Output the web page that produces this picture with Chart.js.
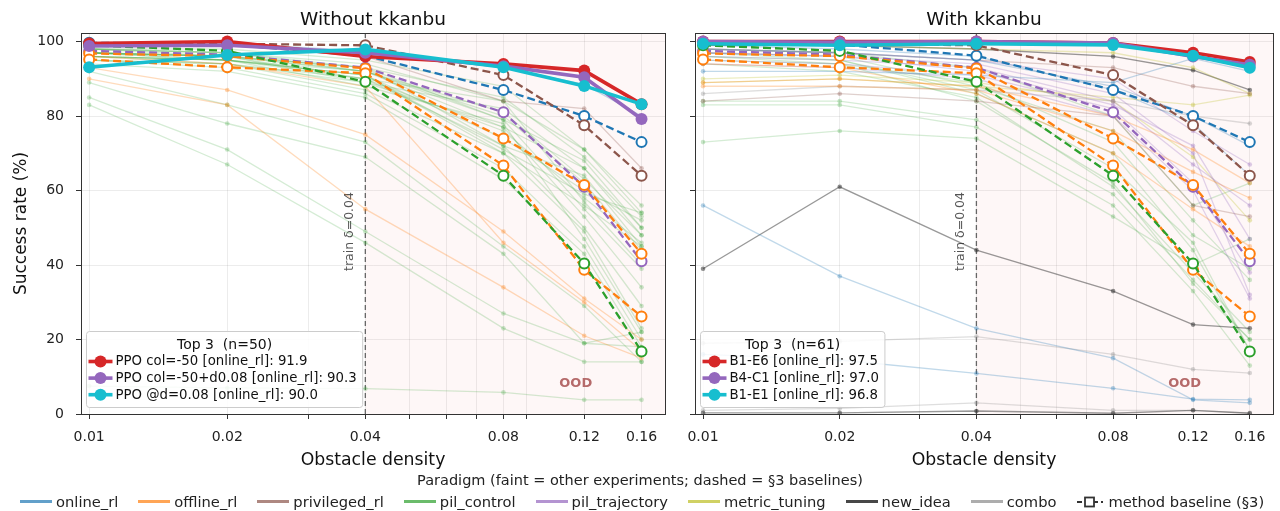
<!DOCTYPE html>
<html>
<head>
<meta charset="utf-8">
<script src="https://cdn.jsdelivr.net/npm/chart.js@4.4.1/dist/chart.umd.min.js"></script>
<style>
  body { margin: 0; background: #fff; font-family: "DejaVu Sans", sans-serif; }
  #wrap { position: relative; width: 1280px; height: 511px; overflow: hidden; }
  #c1 { position: absolute; left: 0; top: 0; }
  #c2 { position: absolute; left: 672px; top: 0; }
  #legTitle { position: absolute; top: 472px; left: 0; width: 1280px; text-align: center; font-size: 14.5px; color: #222; }
  #leg { position: absolute; top: 493px; left: 20px; display: flex; align-items: center; font-size: 14.7px; color: #222; white-space: nowrap; }
  #leg .it { display: flex; align-items: center; margin-right: 20px; }
  #leg .sw { display: inline-block; width: 32px; height: 3px; margin-right: 4px; }
  #leg .mb { position: relative; width: 28px; height: 14px; margin-right: 4px; }
</style>
</head>
<body>
<div id="wrap">
  <canvas id="c1" width="672" height="474"></canvas>
  <canvas id="c2" width="608" height="474"></canvas>
  <div id="legTitle">Paradigm (faint = other experiments; dashed = §3 baselines)</div>
  <div id="leg"></div>
</div>
<script>
// x positions (obstacle density) and tick values
const densities = [0.01, 0.02, 0.04, 0.08, 0.12, 0.16];
const minorDensities = [0.03, 0.05, 0.06, 0.07, 0.09];
const yTicks = [0, 20, 40, 60, 80, 100];
const trainDensity = 0.04;

const paradigms = ['online_rl', 'offline_rl', 'privileged_rl', 'pil_control', 'pil_trajectory', 'metric_tuning', 'new_idea', 'combo'];
const paradigmColors = {
    online_rl: '#1f77b4', offline_rl: '#ff7f0e', privileged_rl: '#8c564b', pil_control: '#2ca02c',
    pil_trajectory: '#9467bd', metric_tuning: '#bcbd22', new_idea: '#333333', combo: '#8a8a8a'
};
const topColors = ['#d62728', '#9467bd', '#17becf'];

// §3 method baselines (same in both panels)
const baseOnline      = [99.7, 99.2, 96.2, 87.0, 80.0, 73.0];
const basePrivileged  = [99.5, 99.4, 99.0, 91.0, 77.5, 64.0];
const baseTrajectory  = [97.5, 96.5, 93.0, 81.0, 61.0, 41.0];
const baseOfflineA    = [96.8, 96.1, 92.8, 74.0, 61.5, 43.0];
const baseOfflineB    = [95.2, 93.1, 91.5, 66.7, 38.7, 26.2];
const baseControl     = [99.0, 97.5, 89.2, 64.0, 40.4, 16.8];

// Without kkanbu: top 3
const leftTopLabels = ['PPO col=-50 [online_rl]: 91.9', 'PPO col=-50+d0.08 [online_rl]: 90.3', 'PPO @d=0.08 [online_rl]: 90.0'];
const leftTop1 = [99.5, 100.0, 96.0, 94.0, 92.2, 83.2];
const leftTop2 = [98.8, 99.0, 97.0, 93.4, 90.4, 79.2];
const leftTop3 = [93.1, 96.4, 97.9, 93.1, 88.1, 83.2];

// Without kkanbu: other experiments
const leftControl = [
    [98, 97, 94, 84, 71, 54], [98, 96, 93, 79, 68, 50], [97, 96, 92, 77, 66, 48],
    [98, 97, 93, 72, 64, 45], [97, 95, 91, 71, 59, 54], [96, 95, 90, 84, 57, 40],
    [97, 96, 92, 79, 55, 39], [96, 94, 89, 77, 53, 34], [95, 94, 90, 72, 50, 29],
    [97, 95, 91, 70, 49, 23], [96, 95, 88, 78, 47, 22], [98, 97, 92, 81, 63, 48],
    [97, 96, 90, 76, 58, 46], [96, 95, 91, 74, 60, 52], [95, 94, 87, 70, 56, 45],
    [97, 96, 89, 82, 66, 50], [95, 93, 86, 66, 45, 20], [94, 92, 85, 63, 43, 18],
    [98, 98, 95, 88, 71, 56], [97, 96, 93, 85, 69, 53], [96, 95, 92, 80, 62, 44],
    [92, 83, 73, 45, 29, 14], [89, 78, 69, 43, 19, 22], [85, 71, 49, 27, 19, 18],
    [83, 67, 46, 23, 14, 14], [7.5, 7, 6.8, 5.8, 3.8, 3.8]
];
const leftOffline = [[93, 87, 75, 49, 31, 20], [90, 83, 55, 34, 21, 15], [96, 94, 88, 46, 30, 17]];
const leftPrivileged = [[99, 99, 96, 84, 82, 66]];
const leftOnline = [[99.5, 99.5, 97.5, 93, 88.5, 80]];

// With kkanbu: top 3
const rightTopLabels = ['B1-E6 [online_rl]: 97.5', 'B4-C1 [online_rl]: 97.0', 'B1-E1 [online_rl]: 96.8'];
const rightTop1 = [100.0, 100.0, 100.0, 99.6, 97.0, 94.5];
const rightTop2 = [100.0, 99.8, 100.0, 99.6, 96.0, 93.8];
const rightTop3 = [99.4, 99.0, 99.4, 99.1, 96.2, 93.0];

// With kkanbu: other experiments
const rightOnline = [[92, 92, 91, 89, 95.5, 92], [99, 98, 96, 87, 78, 64], [98, 97, 95, 88, 80, 72],
    [56, 37, 23, 15, 3.8, 3], [16, 14.5, 10.9, 6.9, 4, 3.8]];
const rightOffline = [[89, 90, 88, 80, 71, 62], [88, 88, 87, 76, 65, 58], [94, 93, 86, 70, 55, 45]];
const rightPrivileged = [[84, 86, 84, 80, 56, 53], [98, 97, 95, 93, 88, 86]];
const rightTrajectory = [[96, 95, 93, 84, 67, 56], [95, 94, 91, 82, 62, 38], [97, 96, 94, 86, 70, 32],
    [94, 93, 90, 80, 60, 31], [98, 97, 95, 90, 76, 67], [97, 96, 92, 83, 72, 47]];
const rightMetric = [[90, 91, 89, 84, 69, 52], [89, 90, 88, 85, 83, 85.6], [99, 99, 98, 97, 93, 86]];
const rightNewIdea = [[39, 61, 44, 33, 24, 23], [99, 99, 98, 96, 92.3, 87], [0.3, 0.3, 0.8, 0.2, 1, 0.2]];
const rightCombo = [[86, 88, 87, 84, 80, 78], [19, 19.5, 20.8, 16, 12, 11], [1, 1.5, 3, 1, 1, 0.3]];
const rightControl = [[84, 84, 79, 59, 36, 20], [83, 83, 77, 56, 33, 13], [73, 76, 74, 53, 40, 47],
    [97, 96, 88, 76, 52, 36], [96, 95, 86, 70, 44, 17], [95, 94, 89, 73, 48, 39],
    [98, 97, 93, 80, 56, 62], [97, 95, 87, 66, 46, 17], [94, 92, 85, 61, 38, 22], [96, 94, 84, 62, 35, 20]];

const FONT = '"DejaVu Sans", sans-serif';
Chart.defaults.font.family = FONT;
Chart.defaults.color = '#222';

function hexA(hex, a) {
    const n = parseInt(hex.slice(1), 16);
    return `rgba(${(n >> 16) & 255},${(n >> 8) & 255},${n & 255},${a})`;
}

function pts(vals) {
    return vals.map((v, i) => ({ x: densities[i], y: v }));
}

function faintSet(vals, paradigm) {
    const c = paradigmColors[paradigm];
    let a = 0.28;
    if (paradigm === 'pil_control') a = 0.2;
    if (paradigm === 'new_idea') a = 0.5;
    return {
        data: pts(vals), borderColor: hexA(c, a), backgroundColor: hexA(c, a + 0.05),
        borderWidth: 1.3, pointRadius: 2.3, pointBorderWidth: 0, pointHoverRadius: 0
    };
}

function baselineSet(vals, paradigm) {
    const c = paradigmColors[paradigm];
    return {
        data: pts(vals), borderColor: c, borderWidth: 2.3, borderDash: [8, 4],
        pointRadius: 5, pointBorderWidth: 2, pointBorderColor: c, pointBackgroundColor: '#ffffff'
    };
}

function topSet(vals, color) {
    return {
        data: pts(vals), borderColor: color, backgroundColor: color, borderWidth: 3.6,
        pointRadius: 6, pointBorderWidth: 0, pointBackgroundColor: color
    };
}

function baselineSets() {
    return [
        baselineSet(baseControl, 'pil_control'),
        baselineSet(baseOfflineB, 'offline_rl'),
        baselineSet(baseOfflineA, 'offline_rl'),
        baselineSet(baseTrajectory, 'pil_trajectory'),
        baselineSet(basePrivileged, 'privileged_rl'),
        baselineSet(baseOnline, 'online_rl')
    ];
}

// draws shading, train line, OOD tag, frame, top-3 legend and title
const decor = {
    id: 'decor',
    beforeDatasetsDraw(chart, args, o) {
        const { ctx, chartArea: a, scales } = chart;
        const xt = scales.x.getPixelForValue(trainDensity);
        ctx.save();
        ctx.fillStyle = 'rgba(214,39,40,0.035)';
        ctx.fillRect(xt, a.top, a.right - xt, a.bottom - a.top);
        ctx.strokeStyle = '#666';
        ctx.lineWidth = 1.3;
        ctx.setLineDash([5, 3]);
        ctx.beginPath();
        ctx.moveTo(xt, a.top);
        ctx.lineTo(xt, a.bottom);
        ctx.stroke();
        ctx.setLineDash([]);
        ctx.translate(xt - 16, scales.y.getPixelForValue(49));
        ctx.rotate(-Math.PI / 2);
        ctx.fillStyle = '#555';
        ctx.font = '12.5px ' + FONT;
        ctx.textAlign = 'center';
        ctx.textBaseline = 'middle';
        ctx.fillText('train δ=0.04', 0, 0);
        ctx.restore();

        ctx.save();
        ctx.fillStyle = '#b56a6a';
        ctx.font = 'bold 13px ' + FONT;
        ctx.textAlign = 'center';
        ctx.textBaseline = 'middle';
        ctx.fillText('OOD', scales.x.getPixelForValue(0.115), scales.y.getPixelForValue(8.2));
        ctx.restore();
    },
    afterDatasetsDraw(chart, args, o) {
        const { ctx, chartArea: a } = chart;
        ctx.save();
        ctx.strokeStyle = '#333';
        ctx.lineWidth = 1;
        ctx.strokeRect(Math.round(a.left) + 0.5, Math.round(a.top) + 0.5, Math.round(a.right - a.left), Math.round(a.bottom - a.top));

        // top-3 legend box
        ctx.font = '13.3px ' + FONT;
        const textW = Math.max(...o.labels.map(t => ctx.measureText(t).width));
        const w = 29 + textW + 6, h = 76;
        const x0 = a.left + 5.5, y0 = a.bottom - 6.5 - h;
        ctx.fillStyle = 'rgba(255,255,255,0.85)';
        ctx.strokeStyle = '#cccccc';
        ctx.beginPath();
        ctx.roundRect(x0, y0, w, h, 3);
        ctx.fill();
        ctx.stroke();
        ctx.fillStyle = '#111';
        ctx.textAlign = 'center';
        ctx.textBaseline = 'middle';
        ctx.font = '14px ' + FONT;
        ctx.fillText(o.title, x0 + w / 2, y0 + 14);
        ctx.font = '13.3px ' + FONT;
        ctx.textAlign = 'left';
        o.labels.forEach((t, i) => {
            const yy = y0 + 30 + i * 16.6;
            ctx.strokeStyle = topColors[i];
            ctx.lineWidth = 3.6;
            ctx.beginPath();
            ctx.moveTo(x0 + 2, yy);
            ctx.lineTo(x0 + 26, yy);
            ctx.stroke();
            ctx.fillStyle = topColors[i];
            ctx.beginPath();
            ctx.arc(x0 + 14, yy, 6, 0, Math.PI * 2);
            ctx.fill();
            ctx.fillStyle = '#111';
            ctx.fillText(t, x0 + 29, yy + 0.5);
        });

        // panel title
        ctx.fillStyle = '#111';
        ctx.font = '18.5px ' + FONT;
        ctx.textAlign = 'center';
        ctx.fillText(o.heading, (a.left + a.right) / 2, 20);
        ctx.restore();
    }
};

function makeChart(id, cfg) {
    const datasets = [
        topSet(cfg.top[2], topColors[2]),
        topSet(cfg.top[1], topColors[1]),
        topSet(cfg.top[0], topColors[0]),
        ...baselineSets()
    ];
    cfg.faint.forEach(([paradigm, lines]) => {
        lines.forEach(vals => datasets.push(faintSet(vals, paradigm)));
    });

    const gridColor = 'rgba(0,0,0,0.075)';
    return new Chart(document.getElementById(id), {
        type: 'line',
        data: { datasets },
        plugins: [decor],
        options: {
            responsive: false,
            animation: false,
            devicePixelRatio: 1,
            events: [],
            layout: { padding: { left: 0, top: 33, right: cfg.padRight, bottom: 0 } },
            elements: { line: { tension: 0 } },
            plugins: {
                legend: { display: false },
                tooltip: { enabled: false },
                decor: { labels: cfg.topLabels, title: cfg.legendTitle, heading: cfg.heading }
            },
            scales: {
                x: {
                    type: 'logarithmic',
                    min: 0.0096,
                    max: 0.18,
                    afterBuildTicks: s => {
                        s.ticks = [...densities, ...minorDensities].sort((p, q) => p - q).map(v => ({ value: v }));
                    },
                    afterFit: s => { s.height = 60; },
                    ticks: {
                        autoSkip: false, maxRotation: 0, minRotation: 0, padding: 10,
                        font: { size: 14 }, color: '#222',
                        callback: v => {
                            const k = densities.indexOf(v);
                            return k >= 0 ? densities[k].toFixed(2) : '';
                        }
                    },
                    grid: { color: gridColor, tickColor: '#333', tickLength: 5 },
                    border: { color: '#333' },
                    title: { display: true, text: 'Obstacle density', font: { size: 17.3 }, color: '#111', padding: { top: 2, bottom: 3 } }
                },
                y: {
                    min: 0,
                    max: 102.3,
                    afterBuildTicks: s => { s.ticks = yTicks.map(v => ({ value: v })); },
                    afterFit: s => { s.width = cfg.yWidth; },
                    ticks: {
                        padding: 12, font: { size: 14 }, color: '#222',
                        callback: v => cfg.showY ? String(v) : ''
                    },
                    grid: { color: gridColor, tickColor: '#333', tickLength: 5 },
                    border: { color: '#333' },
                    title: { display: cfg.showY, text: 'Success rate (%)', font: { size: 17 }, color: '#111', padding: { top: 11, bottom: 0 } }
                }
            }
        }
    });
}

makeChart('c1', {
    heading: 'Without kkanbu',
    legendTitle: 'Top 3  (n=50)',
    topLabels: leftTopLabels,
    top: [leftTop1, leftTop2, leftTop3],
    faint: [['online_rl', leftOnline], ['privileged_rl', leftPrivileged], ['offline_rl', leftOffline], ['pil_control', leftControl]],
    showY: true,
    yWidth: 81,
    padRight: 7
});

makeChart('c2', {
    heading: 'With kkanbu',
    legendTitle: 'Top 3  (n=61)',
    topLabels: rightTopLabels,
    top: [rightTop1, rightTop2, rightTop3],
    faint: [['online_rl', rightOnline], ['offline_rl', rightOffline], ['privileged_rl', rightPrivileged],
        ['pil_trajectory', rightTrajectory], ['metric_tuning', rightMetric], ['new_idea', rightNewIdea],
        ['combo', rightCombo], ['pil_control', rightControl]],
    showY: false,
    yWidth: 23,
    padRight: 5
});

// bottom paradigm legend
const leg = document.getElementById('leg');
paradigms.forEach(p => {
    const it = document.createElement('div');
    it.className = 'it';
    const alpha = p === 'new_idea' ? 0.9 : 0.7;
    it.innerHTML = `<span class="sw" style="background:${hexA(paradigmColors[p], alpha)}"></span><span>${p}</span>`;
    leg.appendChild(it);
});
const mb = document.createElement('div');
mb.className = 'it';
mb.innerHTML = '<svg class="mb" width="28" height="14" viewBox="0 0 28 14">' +
    '<line x1="1" y1="7" x2="27" y2="7" stroke="#333" stroke-width="2" stroke-dasharray="5 3"/>' +
    '<rect x="9" y="2.5" width="9" height="9" fill="#fff" stroke="#333" stroke-width="1.8"/></svg>' +
    '<span>method baseline (§3)</span>';
leg.appendChild(mb);
</script>
</body>
</html>
